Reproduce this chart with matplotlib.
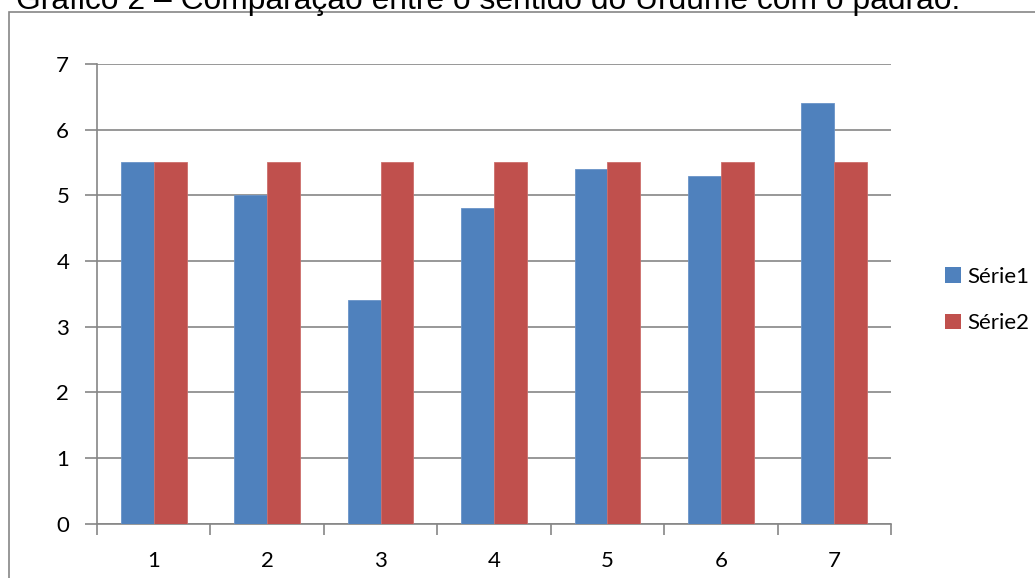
import matplotlib.pyplot as plt
from matplotlib.patches import Rectangle, Patch
import numpy as np

categorias = [1, 2, 3, 4, 5, 6, 7]
serie1 = [5.5, 5.0, 3.4, 4.8, 5.4, 5.3, 6.4]
serie2 = [5.5, 5.5, 5.5, 5.5, 5.5, 5.5, 5.5]
nomes = ['Série1', 'Série2']
titulo = 'Gráfico 2 – Comparação entre o sentido do Urdume com o padrão.'

W, H = 1035, 578
fig = plt.figure(figsize=(W / 100, H / 100), dpi=100)

# moldura cinza do gráfico (cortada à direita e embaixo)
fig.patches.append(Rectangle((9 / W, -0.1), 2.0, 1 - 12 / H + 0.1, transform=fig.transFigure,
                             fill=False, edgecolor='#868686', linewidth=1.2))

# título parcialmente cortado no topo, como no original
t = fig.text(16 / W, 1 - 9 / H, titulo, fontsize=20, family='Liberation Sans',
             va='baseline', ha='left', color='black')
fig.canvas.draw()
largura = t.get_window_extent().width
t.set_fontsize(20 * 941 / largura)

ax = fig.add_axes([97 / W, 1 - 523.5 / H, (891 - 97) / W, (523.5 - 64) / H])

x = np.arange(len(categorias))
w = 0.29
cor1, cor2 = '#4F81BD', '#C0504D'
ax.bar(x - w / 2, serie1, w, color=cor1, edgecolor='#6a93c8', linewidth=0.6, zorder=3)
ax.bar(x + w / 2, serie2, w, color=cor2, edgecolor='#cc6e6b', linewidth=0.6, zorder=3)

ax.set_xlim(-0.5, len(categorias) - 0.5)
ax.set_ylim(0, 7)
ax.set_yticks(range(0, 8))
ax.yaxis.grid(True, color='#868686', linewidth=1.2, zorder=0)
ax.set_axisbelow(True)

ax.set_xticks(x)
ax.set_xticklabels([str(c) for c in categorias])
ax.set_xticks(np.arange(-0.5, len(categorias)), minor=True)
ax.tick_params(axis='x', which='major', length=0, pad=20)
ax.tick_params(axis='x', which='minor', length=8, width=1.2, color='#868686', direction='out')
ax.tick_params(axis='y', length=9, width=1.2, color='#868686', pad=11)
for lbl in ax.get_xticklabels() + ax.get_yticklabels():
    lbl.set_family('Lato')
    lbl.set_fontsize(16)

for s in ['top', 'right']:
    ax.spines[s].set_visible(False)
for s in ['left', 'bottom']:
    ax.spines[s].set_color('#868686')
    ax.spines[s].set_linewidth(1.2)

handles = [Patch(facecolor=cor1), Patch(facecolor=cor2)]
fig.legend(handles, nomes, loc='center left', bbox_to_anchor=(945 / W, 1 - 300 / H),
           frameon=False, prop={'family': 'Lato', 'size': 16},
           handlelength=0.7, handleheight=0.7, handletextpad=0.3,
           labelspacing=1.2, borderpad=0, borderaxespad=0)

fig.savefig('out.png', dpi=100)
